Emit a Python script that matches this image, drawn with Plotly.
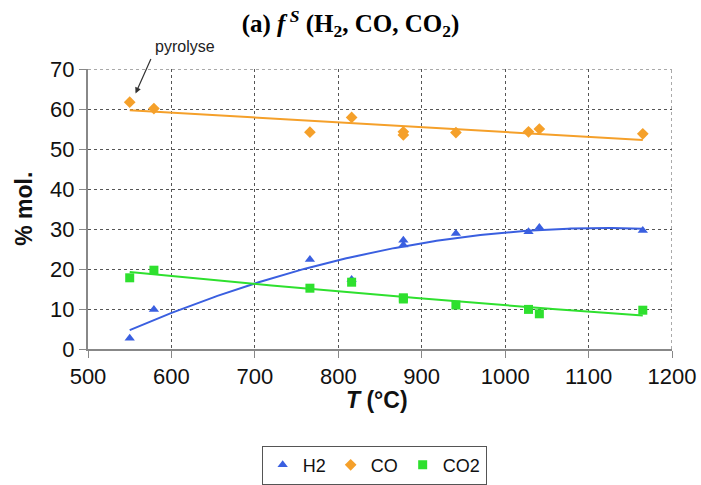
import numpy as np
import plotly.graph_objects as go

# Data
temperature = [550, 579, 766, 816, 878, 878, 941, 1028, 1041, 1165]
h2 = [2.7, 9.9, 22.4, 17.4, 27.2, 26.0, 28.9, 29.3, 30.4, 29.6]
co = [61.7, 60.1, 54.2, 57.9, 54.3, 53.5, 54.1, 54.3, 55.0, 53.8]
co2 = [17.8, 19.7, 15.2, 16.7, 12.8, 12.5, 11.0, 9.9, 8.8, 9.7]

x_ticks = [500, 600, 700, 800, 900, 1000, 1100, 1200]
y_ticks = [0, 10, 20, 30, 40, 50, 60, 70]

BLUE = "#3A5FE0"
ORANGE = "#F5A02A"
GREEN = "#2EE02E"

t = np.array(temperature, dtype=float)
tt = np.linspace(t.min(), t.max(), 200)

fit_h2 = np.polyval(np.polyfit(t, h2, 2), tt)
fit_co = np.polyval(np.polyfit(t, co, 1), tt)
fit_co2 = np.polyval(np.polyfit(t, co2, 2), tt)

fig = go.Figure()

for fit, col in [(fit_h2, BLUE), (fit_co, ORANGE), (fit_co2, GREEN)]:
    fig.add_trace(go.Scatter(x=tt, y=fit, mode="lines", line=dict(color=col, width=2),
                             showlegend=False, hoverinfo="skip"))

fig.add_trace(go.Scatter(x=temperature, y=h2, mode="markers", name="H2",
                         marker=dict(symbol="triangle-up", color=BLUE, size=9)))
fig.add_trace(go.Scatter(x=temperature, y=co, mode="markers", name="CO",
                         marker=dict(symbol="diamond", color=ORANGE, size=9)))
fig.add_trace(go.Scatter(x=temperature, y=co2, mode="markers", name="CO2",
                         marker=dict(symbol="square", color=GREEN, size=9)))

SANS = "Liberation Sans, Arial"
axis_font = dict(family=SANS, size=22, color="#111111")

fig.update_layout(
    width=701, height=485,
    margin=dict(l=88, r=29, t=69, b=136, autoexpand=False),
    paper_bgcolor="white", plot_bgcolor="white",
    title=dict(
        text="<b>(a) <i>f</i><sup> <i>S</i></sup> (H<sub>2</sub>, CO, CO<sub>2</sub>)</b>",
        font=dict(family="Liberation Serif, Times New Roman", size=25, color="black"),
        x=0.5, xanchor="center", y=0.952, yanchor="middle",
    ),
    xaxis=dict(
        range=[500, 1200], tickvals=x_ticks, ticktext=[str(v) for v in x_ticks],
        showgrid=True, gridcolor="#555555", griddash="dot", gridwidth=1,
        showline=True, linecolor="#888888", linewidth=2,
        ticks="outside", ticklen=7, tickcolor="#888888", tickwidth=1,
        tickfont=axis_font, zeroline=False, automargin=False,
        ticklabeloverflow="allow",
    ),
    yaxis=dict(
        range=[0, 70], tickvals=y_ticks, ticktext=[str(v) for v in y_ticks],
        showgrid=True, gridcolor="#555555", griddash="dot", gridwidth=1,
        showline=True, linecolor="#888888", linewidth=2,
        ticks="outside", ticklen=7, tickcolor="#888888", tickwidth=1,
        tickfont=axis_font, zeroline=False, automargin=False,
        ticklabeloverflow="allow",
    ),
    legend=dict(
        orientation="h", x=0.49, xanchor="center", y=-0.345, yanchor="top",
        bordercolor="#555555", borderwidth=1,
        font=dict(family=SANS, size=18, color="#111111"),
        itemwidth=30, tracegroupgap=0,
    ),
)

# axis titles
fig.add_annotation(
    x=0.495, y=-0.182, xref="paper", yref="paper", xanchor="center", yanchor="middle",
    text="<b><i>T</i> (°C)</b>", showarrow=False,
    font=dict(family=SANS, size=23, color="#111111"),
)
fig.add_annotation(
    x=-0.11, y=0.5, xref="paper", yref="paper", xanchor="center", yanchor="middle",
    text="<b>% mol.</b>", showarrow=False, textangle=-90,
    font=dict(family=SANS, size=23, color="#111111"),
)

# right border / top grid lines at the range edges
fig.add_shape(type="line", xref="x", yref="y", x0=1200, x1=1200, y0=0, y1=70,
              line=dict(color="#555555", width=1, dash="dot"))
fig.add_shape(type="line", xref="x", yref="y", x0=500, x1=1200, y0=70, y1=70,
              line=dict(color="#555555", width=1, dash="dot"))

# pyrolyse arrow and label
fig.add_annotation(
    x=557, y=63.9, xref="x", yref="y", ax=16, ay=-36,
    text="", showarrow=True, arrowhead=2, arrowsize=1, arrowwidth=1.2, arrowcolor="#333333",
)
fig.add_annotation(
    x=0.166, y=1.079, xref="paper", yref="paper", xanchor="center", yanchor="middle",
    text="pyrolyse", showarrow=False,
    font=dict(family=SANS, size=16, color="#222222"),
)

# remove the default page margin so the figure fills the window exactly
fig.write_html(
    "out.html",
    config={"displayModeBar": False},
    post_script="document.body.style.margin='0';document.body.style.overflow='hidden';",
)
